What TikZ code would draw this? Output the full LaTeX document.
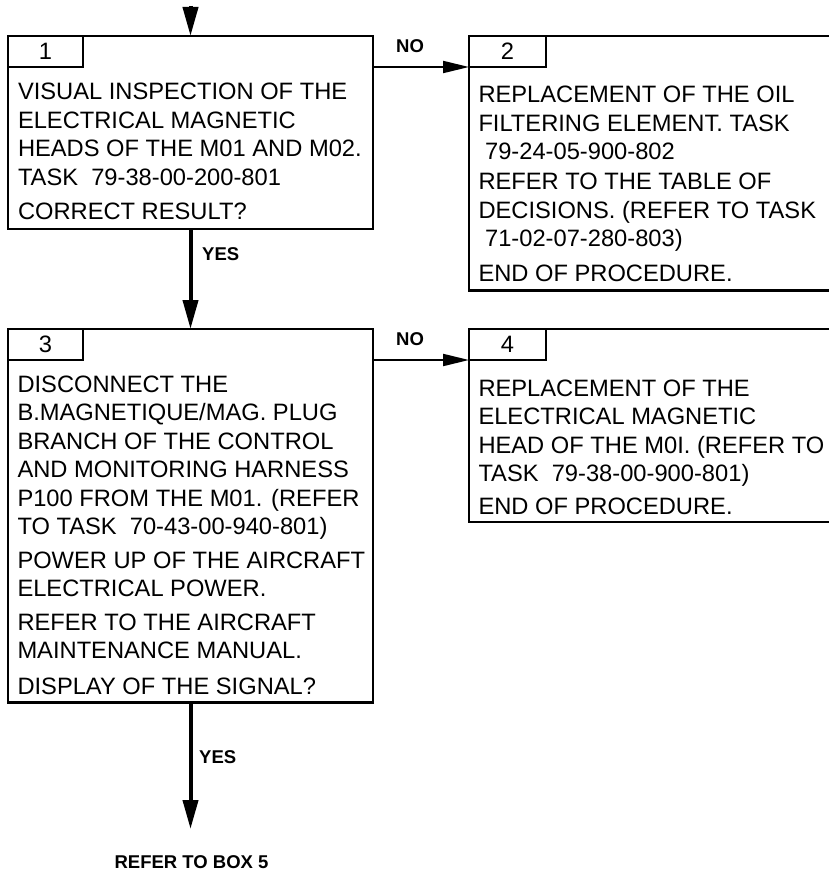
\documentclass[tikz,border=0pt]{standalone}
\usepackage{fontspec}
\setmainfont{Liberation Sans}
\usetikzlibrary{arrows.meta}
\begin{document}
\begin{tikzpicture}[x=1pt,y=-1pt,
  frame/.style={draw, line width=2.5pt, inner sep=0pt, outer sep=0pt, anchor=north west, rectangle},
  tabbox/.style={draw, line width=2.5pt, inner sep=0pt, outer sep=0pt, anchor=north west, rectangle,
    minimum width=75pt, minimum height=31pt, font=\fontsize{23.7}{28}\selectfont},
  body/.style={inner sep=0pt, outer sep=0pt, anchor=north west, align=left, font=\fontsize{23.7}{28.5}\selectfont},
  lbl/.style={inner sep=0pt, anchor=base west, font=\fontsize{18.5}{20}\selectfont\bfseries},
  vconn/.style={line width=4pt, -{Triangle[length=29pt,width=15pt]}},
  hconn/.style={line width=2pt, -{Triangle[length=26pt,width=12pt]}}]
\useasboundingbox (0,0) rectangle (829,872);
\clip (0,0) rectangle (829,872);
% boxes
\node[frame, minimum width=365pt, minimum height=193pt] (b1) at (8,36) {};
\node[tabbox] (t1) at (8,36) {1};
\node[body] (x1) at (18,83) {VISUAL INSPECTION OF THE\\ELECTRICAL MAGNETIC\\HEADS OF THE M01 AND M02.\\TASK\ \ 79-38-00-200-801\\[6pt]CORRECT RESULT?};

\node[frame, minimum width=380pt, minimum height=254.5pt] (b2) at (469,36) {};
\node[tabbox, minimum width=77pt] (t2) at (469,36) {2};
\node[body] (x2) at (478.5,86.3) {REPLACEMENT OF THE OIL\\FILTERING ELEMENT. TASK\\\ 79-24-05-900-802\\[1.5pt]REFER TO THE TABLE OF\\DECISIONS. (REFER TO TASK\\\ 71-02-07-280-803)\\[6pt]END OF PROCEDURE.};

\node[frame, minimum width=365pt, minimum height=373.5pt] (b3) at (8,329) {};
\node[tabbox] (t3) at (8,329) {3};
\node[body] (x3) at (17.5,375.8) {DISCONNECT THE\\B.MAGNETIQUE/MAG. PLUG\\BRANCH OF THE CONTROL\\AND MONITORING HARNESS\\P100 FROM THE M01. (REFER\\TO TASK\ \ 70-43-00-940-801)\\[5pt]POWER UP OF THE AIRCRAFT\\ELECTRICAL POWER.\\[5pt]REFER TO THE AIRCRAFT\\MAINTENANCE MANUAL.\\[7pt]DISPLAY OF THE SIGNAL?};

\node[frame, minimum width=380pt, minimum height=193pt] (b4) at (469,329) {};
\node[tabbox, minimum width=77pt] (t4) at (469,329) {4};
\node[body] (x4) at (478.5,379.8) {REPLACEMENT OF THE\\ELECTRICAL MAGNETIC\\HEAD OF THE M0I. (REFER TO\\TASK\ \ 79-38-00-900-801)\\[4pt]END OF PROCEDURE.};

% connectors
\coordinate (top) at (190.5,6);
\coordinate (out5) at (190.5,829);
\draw[vconn] (top) -- (b1.north);
\draw[vconn] (b1.south) -- (b3.north);
\draw[vconn] (b3.south) -- (out5);
\draw[hconn] (t1.south -| b1.east) -- (t1.south -| b2.west);
\draw[hconn] (t3.south -| b3.east) -- (t3.south -| b4.west);

% labels
\node[lbl] (no1) at (396,53) {NO};
\node[lbl] (no2) at (396,345) {NO};
\node[lbl] (yes1) at (202,260) {YES};
\node[lbl] (yes2) at (199,763) {YES};
\node[lbl, anchor=base] (ref5) at (191.5,868) {REFER TO BOX 5};
\end{tikzpicture}
\end{document}
